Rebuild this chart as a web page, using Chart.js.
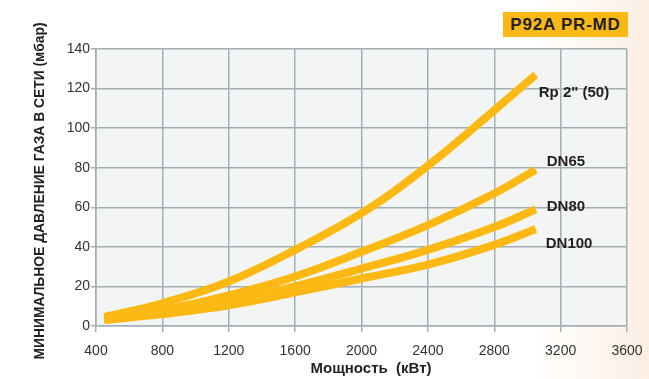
<!DOCTYPE html>
<html>
<head>
<meta charset="utf-8">
<script src="https://cdn.jsdelivr.net/npm/chart.js@4.4.1/dist/chart.umd.min.js"></script>
<style>
  html, body { margin: 0; padding: 0; }
  body {
    width: 649px; height: 379px; position: relative; overflow: hidden;
    background: linear-gradient(90deg, #ffffff 0%, #ffffff 82%, #fcefe4 100%);
    font-family: "Liberation Sans", Arial, sans-serif;
  }
  #chart { position: absolute; left: 0; top: 0; }
  .badge {
    position: absolute; left: 503px; top: 12px; width: 125px; height: 25px;
    background: #fdb913; color: #231f20; font-weight: bold; font-size: 17px;
    letter-spacing: 0.8px; line-height: 25px; text-align: center;
  }
</style>
</head>
<body>
<canvas id="chart" width="649" height="379"></canvas>
<div class="badge">P92A PR-MD</div>
<script>
// мощность (кВт) и давление (мбар) для каждого присоединения
const power = [450, 800, 1200, 1600, 2000, 2400, 2800, 3050];
const rp50 = [4.5, 11.5, 22.5, 38.5, 57, 81, 109, 127];
const dn65 = [3.5, 8, 15.5, 25, 37.5, 51, 67, 79];
const dn80 = [3.5, 6.5, 12.5, 20, 29, 38.5, 50, 59];
const dn100 = [3, 6, 10.5, 17, 24, 31, 41, 49];
const seriesNames = ['Rp 2" (50)', 'DN65', 'DN80', 'DN100'];
const xTicks = [400, 800, 1200, 1600, 2000, 2400, 2800, 3200, 3600];
const yTicks = [0, 20, 40, 60, 80, 100, 120, 140];

// смещения подписей от конца кривой (px)
const labelOffsets = [[3, 18], [11, -8], [11, -2], [10, 15]];

const gridColor = '#a3aeb5';
const lineColor = '#fdb913';
const fontFamily = '"Liberation Sans", Arial, sans-serif';

const toPoints = arr => arr.map((v, i) => ({ x: power[i], y: v }));

const areaBg = {
  id: 'areaBg',
  beforeDraw(chart) {
    const { ctx, chartArea: a } = chart;
    ctx.save();
    ctx.fillStyle = '#f3f5f5';
    ctx.fillRect(a.left, a.top, a.right - a.left, a.bottom - a.top);
    ctx.restore();
  }
};

const endLabels = {
  id: 'endLabels',
  afterDatasetsDraw(chart) {
    const ctx = chart.ctx;
    ctx.save();
    ctx.font = 'bold 15px ' + fontFamily;
    ctx.fillStyle = '#231f20';
    ctx.textBaseline = 'middle';
    chart.data.datasets.forEach((ds, i) => {
      const pts = chart.getDatasetMeta(i).data;
      const last = pts[pts.length - 1];
      ctx.fillText(ds.label, last.x + labelOffsets[i][0], last.y + labelOffsets[i][1]);
    });
    ctx.restore();
  }
};

const axisTitles = {
  id: 'axisTitles',
  afterDraw(chart) {
    const ctx = chart.ctx;
    ctx.save();
    ctx.fillStyle = '#231f20';
    ctx.textAlign = 'center';
    ctx.textBaseline = 'middle';
    ctx.font = 'bold 15px ' + fontFamily;
    ctx.fillText('Мощность  (кВт)', 371, 369);

    const yTitle = 'МИНИМАЛЬНОЕ ДАВЛЕНИЕ ГАЗА В СЕТИ (мбар)';
    ctx.font = 'bold 14px ' + fontFamily;
    const w = ctx.measureText(yTitle).width;
    ctx.translate(40, 191);
    ctx.rotate(-Math.PI / 2);
    ctx.scale(337 / w, 1);
    ctx.fillText(yTitle, 0, 0);
    ctx.restore();
  }
};

new Chart(document.getElementById('chart'), {
  type: 'line',
  data: {
    datasets: [rp50, dn65, dn80, dn100].map((arr, i) => ({
      label: seriesNames[i],
      data: toPoints(arr),
      borderColor: lineColor,
      borderWidth: 8,
      borderCapStyle: 'butt',
      pointRadius: 0,
      fill: false,
      tension: 0.4
    }))
  },
  options: {
    responsive: false,
    animation: false,
    layout: { padding: { left: 0, right: 22, top: 49, bottom: 0 } },
    plugins: { legend: { display: false }, tooltip: { enabled: false } },
    scales: {
      x: {
        type: 'linear',
        min: 400, max: 3600,
        afterFit: s => { s.height = 53; s.paddingLeft = 0; s.paddingRight = 0; },
        afterBuildTicks: s => { s.ticks = xTicks.map(v => ({ value: v })); },
        grid: { color: gridColor, lineWidth: 1.5, tickLength: 6, tickColor: gridColor },
        border: { color: gridColor, width: 1.5 },
        ticks: {
          color: '#333', padding: 11, maxRotation: 0,
          font: { size: 14, family: fontFamily },
          callback: v => String(v)
        }
      },
      y: {
        min: 0, max: 140,
        afterFit: s => { s.width = 96; s.paddingTop = 0; s.paddingBottom = 0; },
        ticks: {
          stepSize: 10,
          color: '#333', padding: 1,
          font: { size: 14, family: fontFamily },
          callback: v => yTicks.includes(v) ? String(v) : ''
        },
        grid: {
          color: gridColor, lineWidth: 1.5, tickLength: 5,
          tickColor: c => yTicks.includes(c.tick.value) ? gridColor : 'rgba(0,0,0,0)'
        },
        border: { color: gridColor, width: 1.5 }
      }
    }
  },
  plugins: [areaBg, endLabels, axisTitles]
});
</script>
</body>
</html>
